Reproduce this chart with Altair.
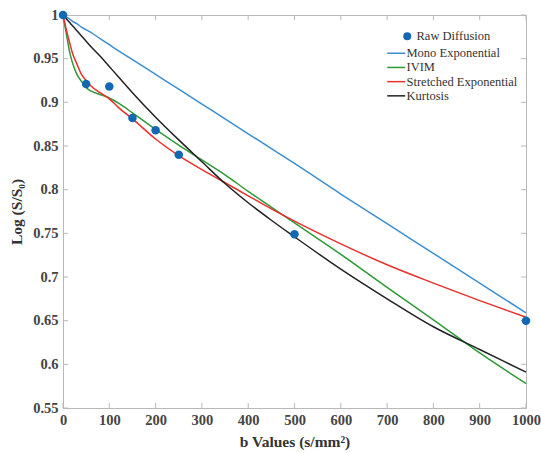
import altair as alt
import pandas as pd

# ---- data ----
b_raw = [0, 50, 100, 150, 200, 250, 500, 1000]
s_raw = [1.000, 0.921, 0.918, 0.882, 0.868, 0.840, 0.749, 0.650]

b_fit = [0, 5, 10, 15, 20, 30, 40, 50, 60, 80, 100, 120, 150, 200, 250, 300,
         350, 400, 450, 500, 600, 700, 800, 900, 1000]
mono = [1.000, 0.998, 0.997, 0.995, 0.993, 0.990, 0.986, 0.983, 0.980, 0.973,
        0.966, 0.959, 0.949, 0.932, 0.915, 0.898, 0.881, 0.864, 0.847, 0.830,
        0.795, 0.761, 0.727, 0.693, 0.659]
ivim = [1.000, 0.985, 0.970, 0.956, 0.946, 0.932, 0.924, 0.917, 0.913, 0.909,
        0.905, 0.899, 0.888, 0.869, 0.851, 0.834, 0.817, 0.798, 0.780, 0.762,
        0.726, 0.688, 0.651, 0.613, 0.578]
stretched = [1.000, 0.988, 0.977, 0.967, 0.957, 0.944, 0.932, 0.925, 0.919,
             0.911, 0.904, 0.894, 0.881, 0.858, 0.839, 0.823, 0.808, 0.793,
             0.778, 0.764, 0.738, 0.714, 0.693, 0.673, 0.654]
kurtosis = [1.000, 0.997, 0.994, 0.991, 0.988, 0.982, 0.976, 0.970, 0.964,
            0.953, 0.941, 0.929, 0.911, 0.883, 0.857, 0.832, 0.807, 0.785,
            0.765, 0.746, 0.709, 0.675, 0.643, 0.617, 0.591]

series_names = ["Mono Exponential", "IVIM", "Stretched Exponential", "Kurtosis"]
series_colors = ["#3b8fd0", "#2e9a35", "#e8302c", "#222222"]
raw_name = "Raw Diffusion"
raw_color = "#1268b3"

x_ticks = [0, 100, 200, 300, 400, 500, 600, 700, 800, 900, 1000]
y_ticks = [0.55, 0.6, 0.65, 0.7, 0.75, 0.8, 0.85, 0.9, 0.95, 1.0]

# ---- tables ----
raw_df = pd.DataFrame({"b": b_raw, "s": s_raw, "lbl": raw_name})
rows = []
for name, vals in zip(series_names, [mono, ivim, stretched, kurtosis]):
    for i, (b, v) in enumerate(zip(b_fit, vals)):
        rows.append({"b": b, "s": v, "series": name, "order": i})
fit_df = pd.DataFrame(rows)
xt_df = pd.DataFrame({"b": x_ticks})
yt_df = pd.DataFrame({"s": y_ticks})

W, H = 463, 393
AX = "#b8b8b8"
FONT = "Liberation Serif"
TXT = "#444444"

xs = alt.Scale(domain=[0, 1000], nice=False, zero=False)
ys = alt.Scale(domain=[0.55, 1.0], nice=False, zero=False)

x_axis = alt.Axis(values=x_ticks, ticks=False, grid=False, domainColor=AX,
                  labelPadding=5, title="b Values (s/mm²)", titlePadding=8,
                  labelFlush=False, format="d")
y_axis = alt.Axis(values=y_ticks, ticks=False, grid=False, domainColor=AX,
                  labelPadding=5, title="Log (S/S₀)", titlePadding=8,
                  labelFlush=False,
                  labelExpr="datum.value == 1 ? '1' : format(datum.value, '.2~f')")

lines = alt.Chart(fit_df).mark_line(strokeWidth=1.5, interpolate="monotone").encode(
    x=alt.X("b:Q", scale=xs, axis=x_axis),
    y=alt.Y("s:Q", scale=ys, axis=y_axis),
    color=alt.Color("series:N",
                    scale=alt.Scale(domain=series_names, range=series_colors),
                    legend=alt.Legend(orient="none", legendX=327, legendY=32,
                                      title=None, symbolType="M-2,0L2,0",
                                      symbolSize=81, symbolStrokeWidth=1.5,
                                      labelFont=FONT, labelFontSize=12.5,
                                      labelColor="#333333", labelOffset=4,
                                      rowPadding=1.2, padding=0)),
    order="order:Q",
)

points = alt.Chart(raw_df).mark_circle(size=72, opacity=1).encode(
    x=alt.X("b:Q", scale=xs),
    y=alt.Y("s:Q", scale=ys),
    color=alt.Color("lbl:N",
                    scale=alt.Scale(domain=[raw_name], range=[raw_color]),
                    legend=alt.Legend(orient="none", legendX=338, legendY=15,
                                      title=None, symbolType="circle",
                                      symbolSize=64, labelFont=FONT,
                                      labelFontSize=12.5, labelColor="#333333",
                                      labelOffset=3, padding=0)),
)

tb = alt.Chart(xt_df).mark_rule(color=AX).encode(
    x=alt.X("b:Q", scale=xs), y=alt.value(H), y2=alt.value(H - 5))
tt = alt.Chart(xt_df).mark_rule(color=AX).encode(
    x=alt.X("b:Q", scale=xs), y=alt.value(0), y2=alt.value(5))
tl = alt.Chart(yt_df).mark_rule(color=AX).encode(
    y=alt.Y("s:Q", scale=ys), x=alt.value(0), x2=alt.value(5))
tr = alt.Chart(yt_df).mark_rule(color=AX).encode(
    y=alt.Y("s:Q", scale=ys), x=alt.value(W), x2=alt.value(W - 5))

chart = alt.layer(tb, tt, tl, tr, lines, points).resolve_scale(
    color="independent"
).properties(
    width=W, height=H,
    autosize=alt.AutoSizeParams(type="none"),
    padding={"left": 63, "top": 15, "right": 15, "bottom": 45},
    background="white",
).configure_view(
    stroke=AX, strokeWidth=1
).configure_axis(
    labelFont=FONT, labelFontSize=14.5, labelFontWeight="bold", labelColor=TXT,
    titleFont=FONT, titleFontSize=15.5, titleFontWeight="bold", titleColor="#333333",
)

chart.save("out.html", embed_options={"renderer": "svg", "actions": False})
